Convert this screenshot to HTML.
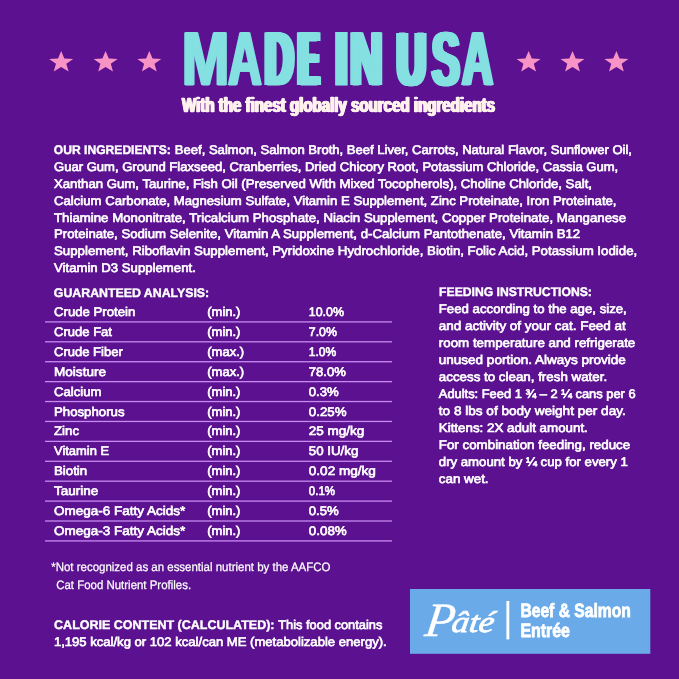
<!DOCTYPE html>
<html lang="en">
<head>
<meta charset="utf-8">
<title>Made in USA</title>
<style>
html,body{margin:0;padding:0;background:#5b1190;}
body{width:679px;height:679px;overflow:hidden;position:relative;}
svg{display:block;position:absolute;left:0;top:0;}
text{font-family:"Liberation Sans",sans-serif;fill:#fff;text-rendering:geometricPrecision;}
.b{font-size:12.5px;stroke:#fff;stroke-width:.65px;}
.bb{font-size:12.5px;font-weight:bold;stroke-width:.4px;}
.hd{position:absolute;left:0;top:20.42px;width:679px;height:77.1px;font:bold 77.1px/77.1px "Liberation Sans",sans-serif;color:#84e0e1;white-space:pre;-webkit-text-stroke:1.2px #84e0e1;}
.hd span{position:relative;display:inline-block;width:0;transform-origin:0 65px;}
.hd .sp{position:static;display:inline;font-size:0;}
.sub{position:absolute;left:181.8px;top:95.10px;font:bold 20.9px/20.9px "Liberation Sans",sans-serif;color:#fff2ee;white-space:nowrap;transform-origin:0 0;transform:scaleX(.7215);-webkit-text-stroke:.4px #fff2ee;text-shadow:.6px 0 0 #fff2ee,-.6px 0 0 #fff2ee,1.2px 0 0 #fff2ee,-1.2px 0 0 #fff2ee;}
.f{font-size:12.2px;stroke:#fff;stroke-width:.25px;}
.p{font-family:"Liberation Serif",serif;font-style:italic;font-size:40px;stroke:#fff;stroke-width:.8px;}
.e{font-size:19.3px;font-weight:bold;stroke:#fff;stroke-width:.8px;}
</style>
</head>
<body>
<svg width="679" height="679" viewBox="0 0 679 679">
<rect width="679" height="679" fill="#5b1190"/>
<polygon fill="#f893c6" points="61.2,51.1 64.3,58.4 73.2,58.9 66.3,63.8 68.6,71.4 61.1,67.1 53.7,71.4 56.0,63.8 49.1,58.9 58.0,58.4"/>
<polygon fill="#f893c6" points="105.6,51.1 108.8,58.4 117.6,58.9 110.8,63.8 113.0,71.4 105.6,67.1 98.2,71.4 100.4,63.8 93.6,58.9 102.4,58.4"/>
<polygon fill="#f893c6" points="149.3,51.1 152.5,58.4 161.3,58.9 154.5,63.8 156.7,71.4 149.3,67.1 141.9,71.4 144.1,63.8 137.3,58.9 146.1,58.4"/>
<polygon fill="#f893c6" points="528.6,51.1 531.8,58.4 540.6,58.9 533.8,63.8 536.0,71.4 528.6,67.1 521.2,71.4 523.4,63.8 516.6,58.9 525.4,58.4"/>
<polygon fill="#f893c6" points="572.5,51.1 575.7,58.4 584.5,58.9 577.7,63.8 579.9,71.4 572.5,67.1 565.1,71.4 567.3,63.8 560.5,58.9 569.3,58.4"/>
<polygon fill="#f893c6" points="616.4,51.1 619.6,58.4 628.4,58.9 621.6,63.8 623.8,71.4 616.4,67.1 609.0,71.4 611.2,63.8 604.4,58.9 613.2,58.4"/>
<text class="b bb" x="53.8" y="154.2" textLength="117.0" lengthAdjust="spacingAndGlyphs">OUR INGREDIENTS:</text>
<text class="b" x="174.8" y="153.9" textLength="457.2" lengthAdjust="spacingAndGlyphs">Beef, Salmon, Salmon Broth, Beef Liver, Carrots, Natural Flavor, Sunflower Oil,</text>
<text class="b" x="54.0" y="170.8" textLength="564.2" lengthAdjust="spacingAndGlyphs">Guar Gum, Ground Flaxseed, Cranberries, Dried Chicory Root, Potassium Chloride, Cassia Gum,</text>
<text class="b" x="54.0" y="187.8" textLength="538.0" lengthAdjust="spacingAndGlyphs">Xanthan Gum, Taurine, Fish Oil (Preserved With Mixed Tocopherols), Choline Chloride, Salt,</text>
<text class="b" x="54.0" y="204.6" textLength="562.5" lengthAdjust="spacingAndGlyphs">Calcium Carbonate, Magnesium Sulfate, Vitamin E Supplement, Zinc Proteinate, Iron Proteinate,</text>
<text class="b" x="54.0" y="221.5" textLength="572.0" lengthAdjust="spacingAndGlyphs">Thiamine Mononitrate, Tricalcium Phosphate, Niacin Supplement, Copper Proteinate, Manganese</text>
<text class="b" x="54.0" y="238.4" textLength="526.2" lengthAdjust="spacingAndGlyphs">Proteinate, Sodium Selenite, Vitamin A Supplement, d-Calcium Pantothenate, Vitamin B12</text>
<text class="b" x="54.0" y="255.3" textLength="583.2" lengthAdjust="spacingAndGlyphs">Supplement, Riboflavin Supplement, Pyridoxine Hydrochloride, Biotin, Folic Acid, Potassium Iodide,</text>
<text class="b" x="54.0" y="272.2" textLength="141.8" lengthAdjust="spacingAndGlyphs">Vitamin D3 Supplement.</text>
<text class="b bb" x="53.8" y="297.2" textLength="155.4" lengthAdjust="spacingAndGlyphs">GUARANTEED ANALYSIS:</text>
<text class="b" x="54.0" y="316.4" textLength="81.2" lengthAdjust="spacingAndGlyphs">Crude Protein</text>
<text class="b" x="207.3" y="316.4" textLength="33.1" lengthAdjust="spacingAndGlyphs">(min.)</text>
<text class="b" x="308.8" y="316.4" textLength="35.2" lengthAdjust="spacingAndGlyphs">10.0%</text>
<rect x="45" y="321.25" width="347" height="1.3" fill="#c88af0"/>
<text class="b" x="54.0" y="336.2" textLength="58.0" lengthAdjust="spacingAndGlyphs">Crude Fat</text>
<text class="b" x="207.3" y="336.2" textLength="33.1" lengthAdjust="spacingAndGlyphs">(min.)</text>
<text class="b" x="308.8" y="336.2" textLength="28.1" lengthAdjust="spacingAndGlyphs">7.0%</text>
<rect x="45" y="341.16" width="347" height="1.3" fill="#c88af0"/>
<text class="b" x="54.0" y="356.1" textLength="68.8" lengthAdjust="spacingAndGlyphs">Crude Fiber</text>
<text class="b" x="207.3" y="356.1" textLength="36.8" lengthAdjust="spacingAndGlyphs">(max.)</text>
<text class="b" x="308.8" y="356.1" textLength="27.5" lengthAdjust="spacingAndGlyphs">1.0%</text>
<rect x="45" y="361.07" width="347" height="1.3" fill="#c88af0"/>
<text class="b" x="54.0" y="375.9" textLength="52.0" lengthAdjust="spacingAndGlyphs">Moisture</text>
<text class="b" x="207.3" y="375.9" textLength="36.8" lengthAdjust="spacingAndGlyphs">(max.)</text>
<text class="b" x="308.8" y="375.9" textLength="37.1" lengthAdjust="spacingAndGlyphs">78.0%</text>
<rect x="45" y="380.98" width="347" height="1.3" fill="#c88af0"/>
<text class="b" x="54.0" y="395.8" textLength="47.5" lengthAdjust="spacingAndGlyphs">Calcium</text>
<text class="b" x="207.3" y="395.8" textLength="33.1" lengthAdjust="spacingAndGlyphs">(min.)</text>
<text class="b" x="308.8" y="395.8" textLength="30.0" lengthAdjust="spacingAndGlyphs">0.3%</text>
<rect x="45" y="400.89" width="347" height="1.3" fill="#c88af0"/>
<text class="b" x="54.0" y="415.6" textLength="70.5" lengthAdjust="spacingAndGlyphs">Phosphorus</text>
<text class="b" x="207.3" y="415.6" textLength="33.1" lengthAdjust="spacingAndGlyphs">(min.)</text>
<text class="b" x="308.8" y="415.6" textLength="37.7" lengthAdjust="spacingAndGlyphs">0.25%</text>
<rect x="45" y="420.80" width="347" height="1.3" fill="#c88af0"/>
<text class="b" x="54.0" y="435.4" textLength="25.0" lengthAdjust="spacingAndGlyphs">Zinc</text>
<text class="b" x="207.3" y="435.4" textLength="33.1" lengthAdjust="spacingAndGlyphs">(min.)</text>
<text class="b" x="308.8" y="435.4" textLength="55.6" lengthAdjust="spacingAndGlyphs">25 mg/kg</text>
<rect x="45" y="440.71" width="347" height="1.3" fill="#c88af0"/>
<text class="b" x="54.0" y="455.3" textLength="55.0" lengthAdjust="spacingAndGlyphs">Vitamin E</text>
<text class="b" x="207.3" y="455.3" textLength="33.1" lengthAdjust="spacingAndGlyphs">(min.)</text>
<text class="b" x="308.8" y="455.3" textLength="49.5" lengthAdjust="spacingAndGlyphs">50 IU/kg</text>
<rect x="45" y="460.62" width="347" height="1.3" fill="#c88af0"/>
<text class="b" x="54.0" y="475.1" textLength="33.2" lengthAdjust="spacingAndGlyphs">Biotin</text>
<text class="b" x="207.3" y="475.1" textLength="33.1" lengthAdjust="spacingAndGlyphs">(min.)</text>
<text class="b" x="308.8" y="475.1" textLength="67.1" lengthAdjust="spacingAndGlyphs">0.02 mg/kg</text>
<rect x="45" y="480.53" width="347" height="1.3" fill="#c88af0"/>
<text class="b" x="54.0" y="495.0" textLength="44.2" lengthAdjust="spacingAndGlyphs">Taurine</text>
<text class="b" x="207.3" y="495.0" textLength="33.1" lengthAdjust="spacingAndGlyphs">(min.)</text>
<text class="b" x="308.8" y="495.0" textLength="26.3" lengthAdjust="spacingAndGlyphs">0.1%</text>
<rect x="45" y="500.44" width="347" height="1.3" fill="#c88af0"/>
<text class="b" x="54.0" y="514.8" textLength="131.2" lengthAdjust="spacingAndGlyphs">Omega-6 Fatty Acids*</text>
<text class="b" x="207.3" y="514.8" textLength="33.1" lengthAdjust="spacingAndGlyphs">(min.)</text>
<text class="b" x="308.8" y="514.8" textLength="30.0" lengthAdjust="spacingAndGlyphs">0.5%</text>
<rect x="45" y="520.35" width="347" height="1.3" fill="#c88af0"/>
<text class="b" x="54.0" y="534.6" textLength="131.2" lengthAdjust="spacingAndGlyphs">Omega-3 Fatty Acids*</text>
<text class="b" x="207.3" y="534.6" textLength="33.1" lengthAdjust="spacingAndGlyphs">(min.)</text>
<text class="b" x="308.8" y="534.6" textLength="38.0" lengthAdjust="spacingAndGlyphs">0.08%</text>
<rect x="45" y="540.26" width="347" height="1.3" fill="#c88af0"/>
<text class="b bb" x="439.1" y="296.2" textLength="152.8" lengthAdjust="spacingAndGlyphs">FEEDING INSTRUCTIONS:</text>
<text class="b" x="438.8" y="313.2" textLength="188.0" lengthAdjust="spacingAndGlyphs">Feed according to the age, size,</text>
<text class="b" x="438.8" y="330.2" textLength="187.0" lengthAdjust="spacingAndGlyphs">and activity of your cat. Feed at</text>
<text class="b" x="438.8" y="347.1" textLength="196.5" lengthAdjust="spacingAndGlyphs">room temperature and refrigerate</text>
<text class="b" x="438.8" y="364.0" textLength="187.0" lengthAdjust="spacingAndGlyphs">unused portion. Always provide</text>
<text class="b" x="438.8" y="380.9" textLength="168.3" lengthAdjust="spacingAndGlyphs">access to clean, fresh water.</text>
<text class="b" x="438.8" y="397.9" textLength="196.8" lengthAdjust="spacingAndGlyphs">Adults: Feed 1 ¾ – 2 ¼ cans per 6</text>
<text class="b" x="438.8" y="414.8" textLength="187.0" lengthAdjust="spacingAndGlyphs">to 8 lbs of body weight per day.</text>
<text class="b" x="438.8" y="431.7" textLength="149.0" lengthAdjust="spacingAndGlyphs">Kittens: 2X adult amount.</text>
<text class="b" x="438.8" y="448.7" textLength="191.4" lengthAdjust="spacingAndGlyphs">For combination feeding, reduce</text>
<text class="b" x="438.8" y="465.6" textLength="189.0" lengthAdjust="spacingAndGlyphs">dry amount by ¼ cup for every 1</text>
<text class="b" x="438.8" y="482.5" textLength="49.8" lengthAdjust="spacingAndGlyphs">can wet.</text>
<text class="f" x="51.2" y="571.2" textLength="279.3" lengthAdjust="spacingAndGlyphs">*Not recognized as an essential nutrient by the AAFCO</text>
<text class="f" x="56.2" y="589.2" textLength="134.9" lengthAdjust="spacingAndGlyphs">Cat Food Nutrient Profiles.</text>
<text class="b bb" x="54.1" y="628.9" textLength="220.4" lengthAdjust="spacingAndGlyphs">CALORIE CONTENT (CALCULATED):</text>
<text class="b" x="278.3" y="628.6" textLength="104.0" lengthAdjust="spacingAndGlyphs">This food contains</text>
<text class="b" x="53.9" y="646.2" textLength="332.8" lengthAdjust="spacingAndGlyphs">1,195 kcal/kg or 102 kcal/can ME (metabolizable energy).</text>
<rect x="410" y="589" width="240.3" height="64.8" fill="#6aaae9"/>
<rect x="506.4" y="601" width="2.9" height="38.4" fill="#fff"/>
<g transform="translate(424,634) skewX(-8)"><text class="p"><tspan x="0" y="1.5" font-size="48" stroke-width=".3">P</tspan><tspan x="26.5" y="-2" font-size="30" textLength="42.5" lengthAdjust="spacingAndGlyphs">âté</tspan></text></g>
<text class="e" x="520.4" y="617.3" textLength="110.4" lengthAdjust="spacingAndGlyphs">Beef &amp; Salmon</text>
<text class="e" x="520.4" y="637.3" textLength="49.6" lengthAdjust="spacingAndGlyphs">Entrée</text>
</svg>
<div class="hd"><span style="left:181.84px;transform:scale(0.7335,.99);text-shadow:1.08px 0 0 #84e0e1,-1.08px 0 0 #84e0e1,2.16px 0 0 #84e0e1,-2.16px 0 0 #84e0e1">M</span><span style="left:228.48px;transform:scale(0.6056,.99);text-shadow:1.30px 0 0 #84e0e1,-1.30px 0 0 #84e0e1,2.60px 0 0 #84e0e1,-2.60px 0 0 #84e0e1">A</span><span style="left:265.00px;transform:scale(0.5085,.99);text-shadow:1.58px 0 0 #84e0e1,-1.58px 0 0 #84e0e1,3.17px 0 0 #84e0e1,-3.17px 0 0 #84e0e1,4.75px 0 0 #84e0e1,-4.75px 0 0 #84e0e1,6.34px 0 0 #84e0e1,-6.34px 0 0 #84e0e1">D</span><span style="left:299.35px;transform:scale(0.3732,.99);text-shadow:2.17px 0 0 #84e0e1,-2.17px 0 0 #84e0e1,4.35px 0 0 #84e0e1,-4.35px 0 0 #84e0e1,6.52px 0 0 #84e0e1,-6.52px 0 0 #84e0e1,8.69px 0 0 #84e0e1,-8.69px 0 0 #84e0e1,10.86px 0 0 #84e0e1,-10.86px 0 0 #84e0e1">E</span><span class="sp"> </span><span style="left:330.64px;transform:scale(1.0000,.99);text-shadow:0.20px 0 0 #84e0e1,-0.20px 0 0 #84e0e1">I</span><span style="left:350.49px;transform:scale(0.5844,.99);text-shadow:1.18px 0 0 #84e0e1,-1.18px 0 0 #84e0e1,2.36px 0 0 #84e0e1,-2.36px 0 0 #84e0e1,3.54px 0 0 #84e0e1,-3.54px 0 0 #84e0e1,4.71px 0 0 #84e0e1,-4.71px 0 0 #84e0e1">N</span><span class="sp"> </span><span style="left:397.49px;transform:scale(0.5165,.99);text-shadow:1.54px 0 0 #84e0e1,-1.54px 0 0 #84e0e1,3.07px 0 0 #84e0e1,-3.07px 0 0 #84e0e1,4.61px 0 0 #84e0e1,-4.61px 0 0 #84e0e1,6.14px 0 0 #84e0e1,-6.14px 0 0 #84e0e1">U</span><span style="left:431.54px;transform:scale(0.5358,.99);text-shadow:1.62px 0 0 #84e0e1,-1.62px 0 0 #84e0e1,3.24px 0 0 #84e0e1,-3.24px 0 0 #84e0e1,4.86px 0 0 #84e0e1,-4.86px 0 0 #84e0e1">S</span><span style="left:462.04px;transform:scale(0.5563,.99);text-shadow:1.13px 0 0 #84e0e1,-1.13px 0 0 #84e0e1,2.25px 0 0 #84e0e1,-2.25px 0 0 #84e0e1,3.38px 0 0 #84e0e1,-3.38px 0 0 #84e0e1">A</span></div>
<div class="sub">With the finest globally sourced ingredients</div>
</body>
</html>
